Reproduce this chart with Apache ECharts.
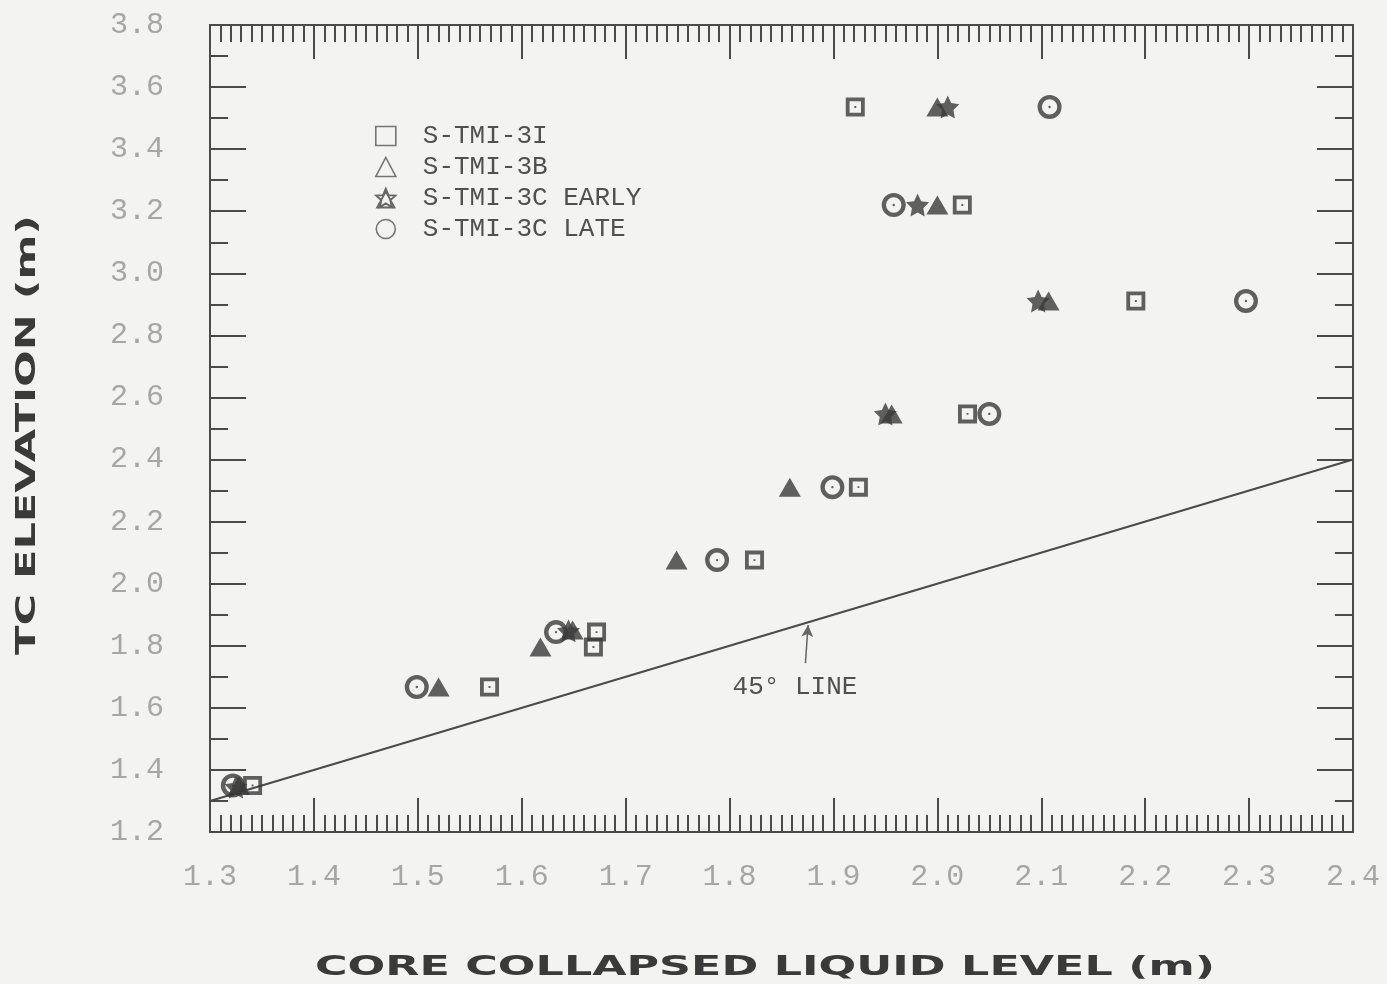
<!DOCTYPE html>
<html><head><meta charset="utf-8">
<script src="https://cdn.jsdelivr.net/npm/echarts@6/dist/echarts.min.js"></script>
<style>html,body{margin:0;padding:0;background:#f3f3f2}#c{width:1387px;height:984px}</style>
</head><body><div id="c"></div>
<script>
// ---- data ----
const seriesNames = ['S-TMI-3I', 'S-TMI-3B', 'S-TMI-3C EARLY', 'S-TMI-3C LATE'];
const xTickLabels = ['1.3','1.4','1.5','1.6','1.7','1.8','1.9','2.0','2.1','2.2','2.3','2.4'];
const yTickLabels = ['1.2','1.4','1.6','1.8','2.0','2.2','2.4','2.6','2.8','3.0','3.2','3.4','3.6','3.8'];
const s3I = [[1.341,1.35],[1.569,1.667],[1.669,1.796],[1.672,1.844],[1.824,2.076],[1.924,2.311],[2.029,2.547],[2.191,2.911],[2.024,3.22],[1.921,3.536]];
const s3B = [[1.328,1.35],[1.520,1.667],[1.618,1.796],[1.649,1.851],[1.749,2.076],[1.858,2.311],[1.956,2.547],[2.107,2.911],[2.000,3.22],[2.000,3.536]];
const s3CEarly = [[1.325,1.345],[1.645,1.848],[1.950,2.547],[2.097,2.911],[1.981,3.22],[2.010,3.536]];
const s3CLate = [[1.322,1.35],[1.499,1.667],[1.633,1.844],[1.788,2.076],[1.899,2.311],[2.050,2.547],[2.297,2.911],[1.958,3.22],[2.108,3.536]];
const line45 = [[1.3,1.3],[2.4,2.4]];
const annotText = '45° LINE';
const annotTextPos = [1.863, 1.667];
const annotArrow = [[1.873, 1.744], [1.8756, 1.867]];
const xTitle = 'CORE COLLAPSED LIQUID LEVEL (m)';
const yTitle = 'TC ELEVATION (m)';

// ---- styling ----
const ink = '#3a3a3a';
const axisInk = '#4a4a4a';
const labelGray = '#a6a6a6';
const monoFont = '"Liberation Mono", "DejaVu Sans Mono", monospace';

const SQ = 'path://M0,0 H20 V20 H0 Z M4,4 V16 H16 V4 Z M9,9 H11 V11 H9 Z';
const CI = 'path://M10,0 A10,10 0 1,1 10,20 A10,10 0 1,1 10,0 Z M10,3.6 A6.4,6.4 0 1,0 10,16.4 A6.4,6.4 0 1,0 10,3.6 Z M10,9 A1,1 0 1,1 10,11 A1,1 0 1,1 10,9 Z';
const STAR = 'path://M10,0 L12.9,6.0 L19.51,6.91 L14.7,11.5 L15.88,18.09 L10,15 L4.12,18.09 L5.3,11.5 L0.49,6.91 L7.1,6.0 Z';
const STARTRI = 'path://M10,0 L12.65,6.36 L19.51,6.91 L14.28,11.39 L15.88,18.09 L10,14.5 L4.12,18.09 L5.72,11.39 L0.49,6.91 L7.35,6.36 Z M10,3 L18.5,18.5 L1.5,18.5 Z';

function measure(text, font) {
  const c = document.createElement('canvas').getContext('2d');
  c.font = font;
  return c.measureText(text).width;
}
const titleFont = 'bold 26px "DejaVu Sans"';
const xTitleScale = 900 / measure(xTitle, titleFont);
const yTitleScale = 440 / measure(yTitle, titleFont);

const chart = echarts.init(document.getElementById('c'), null, {renderer: 'canvas'});

const xAxisCommon = {
  type: 'value', min: 1.3, max: 2.4, interval: 0.1,
  axisLine: {show: true, lineStyle: {color: axisInk, width: 2}},
  axisTick: {show: true, inside: true, length: 34, lineStyle: {color: axisInk, width: 2}},
  minorTick: {show: true, splitNumber: 10, length: 17, lineStyle: {color: axisInk, width: 2}},
  splitLine: {show: false}
};
const yAxisCommon = {
  type: 'value', min: 1.2, max: 3.8, interval: 0.2,
  axisLine: {show: true, lineStyle: {color: axisInk, width: 2}},
  axisTick: {show: true, inside: true, length: 36, lineStyle: {color: axisInk, width: 2}},
  minorTick: {show: true, splitNumber: 2, length: 18, lineStyle: {color: axisInk, width: 2}},
  splitLine: {show: false}
};

chart.setOption({
  backgroundColor: '#f3f3f2',
  animation: false,
  grid: {left: 210, right: 34, top: 25, bottom: 152, containLabel: false},
  xAxis: [
    Object.assign({}, xAxisCommon, {
      position: 'bottom',
      axisLabel: {show: true, margin: 30, color: labelGray, fontFamily: monoFont, fontSize: 30,
        formatter: v => xTickLabels[Math.round((v - 1.3) * 10)] || ''}
    }),
    Object.assign({}, xAxisCommon, {position: 'top', axisLabel: {show: false}})
  ],
  yAxis: [
    Object.assign({}, yAxisCommon, {
      position: 'left',
      axisLabel: {show: true, margin: 46, color: labelGray, fontFamily: monoFont, fontSize: 30,
        formatter: v => yTickLabels[Math.round((v - 1.2) * 5)] || ''}
    }),
    Object.assign({}, yAxisCommon, {position: 'right', axisLabel: {show: false}})
  ],
  legend: {
    orient: 'vertical', left: 370, top: 118, itemWidth: 20, itemHeight: 19, itemGap: 5,
    textStyle: {color: '#505050', fontFamily: monoFont, fontSize: 26, lineHeight: 20, padding: [0, 0, 0, 22]},
    data: [
      {name: seriesNames[0], icon: 'rect', itemStyle: {color: 'rgba(0,0,0,0)', borderColor: '#555', borderWidth: 1.6}},
      {name: seriesNames[1], icon: 'triangle', itemStyle: {color: 'rgba(0,0,0,0)', borderColor: '#555', borderWidth: 1.6}},
      {name: seriesNames[2], icon: STARTRI, itemStyle: {color: 'rgba(0,0,0,0)', borderColor: '#444', borderWidth: 1.8}},
      {name: seriesNames[3], icon: 'circle', itemStyle: {color: 'rgba(0,0,0,0)', borderColor: '#555', borderWidth: 1.6}}
    ]
  },
  graphic: [
    {type: 'text', x: 765, y: 968, scaleX: xTitleScale, silent: true,
      style: {text: xTitle, font: titleFont, fill: ink, align: 'center', verticalAlign: 'middle'}},
    {type: 'text', x: 28, y: 435, rotation: Math.PI / 2, scaleX: yTitleScale, silent: true,
      style: {text: yTitle, font: titleFont, fill: ink, align: 'center', verticalAlign: 'middle'}}
  ],
  series: [
    {
      type: 'line', data: line45, showSymbol: false, symbol: 'none', silent: true,
      lineStyle: {color: '#4a4a4a', width: 2}, z: 1,
      markLine: {
        silent: true, symbol: ['none', 'arrow'], symbolSize: [9, 12],
        lineStyle: {color: '#666', width: 1.5, type: 'solid'}, label: {show: false},
        data: [[{coord: annotArrow[0]}, {coord: annotArrow[1]}]]
      },
      markPoint: {
        silent: true, symbol: 'circle', symbolSize: 1, itemStyle: {color: 'rgba(0,0,0,0)'},
        label: {show: true, position: 'inside', formatter: annotText, color: '#505050', fontFamily: monoFont, fontSize: 26},
        data: [{coord: annotTextPos}]
      }
    },
    {name: seriesNames[0], type: 'scatter', data: s3I, symbol: SQ, symbolSize: 19, itemStyle: {color: ink}, z: 3},
    {name: seriesNames[3], type: 'scatter', data: s3CLate, symbol: CI, symbolSize: 24, itemStyle: {color: ink}, z: 3},
    {name: seriesNames[1], type: 'scatter', data: s3B, symbol: 'triangle', symbolSize: [22, 19], itemStyle: {color: ink}, z: 4},
    {name: seriesNames[2], type: 'scatter', data: s3CEarly, symbol: STAR, symbolSize: 23, itemStyle: {color: ink}, z: 4}
  ]
});
</script>
</body></html>
